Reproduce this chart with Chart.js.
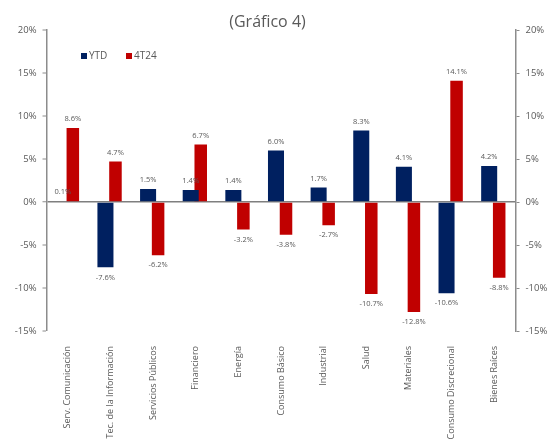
<!DOCTYPE html>
<html><head><meta charset="utf-8">
<script src="https://cdn.jsdelivr.net/npm/chart.js@4/dist/chart.umd.min.js"></script>
<style>html,body{margin:0;padding:0;background:#fff}</style>
</head><body>
<canvas id="c" width="560" height="443"></canvas>
<script>
const categories = ['Serv. Comunicación','Tec. de la Información','Servicios Públicos','Financiero','Energía','Consumo Básico','Industrial','Salud','Materiales','Consumo Discrecional','Bienes Raíces'];
const ytd = [0.1, -7.6, 1.5, 1.4, 1.4, 6.0, 1.7, 8.3, 4.1, -10.6, 4.2];
const q4 = [8.6, 4.7, -6.2, 6.7, -3.2, -3.8, -2.7, -10.7, -12.8, 14.1, -8.8];
const seriesNames = ['YTD', '4T24'];
const yMin = -15, yMax = 20, yStep = 5;
const titleText = '(Gráfico 4)';

const BLUE = '#002060', RED = '#C00000', TXT = '#595959', AX = '#8c8c8c';
const FONT = "'Open Sans', sans-serif";

const shiftPlugin = {
  id: 'shift',
  afterLayout(chart) {
    if (chart.titleBlock) { chart.titleBlock.left -= 12.5; chart.titleBlock.right -= 12.5; }
  }
};

const labelsPlugin = {
  id: 'valueLabels',
  afterDatasetsDraw(chart) {
    const ctx = chart.ctx;
    ctx.save();
    ctx.font = "7.5px " + FONT;
    ctx.fillStyle = TXT;
    ctx.textAlign = 'center';
    ctx.textBaseline = 'middle';
    chart.data.datasets.forEach((ds, i) => {
      const meta = chart.getDatasetMeta(i);
      meta.data.forEach((bar, j) => {
        const v = ds.data[j];
        const y = v >= 0 ? bar.y - 9 : bar.y + 10;
        ctx.fillText(v.toFixed(1) + '%', bar.x, y);
      });
    });
    ctx.restore();
  }
};

const legendPlugin = {
  id: 'customLegend',
  afterDraw(chart) {
    const ctx = chart.ctx;
    ctx.save();
    ctx.font = "10px " + FONT;
    ctx.textBaseline = 'middle';
    ctx.textAlign = 'left';
    const items = [{t: seriesNames[0], c: BLUE, x: 81}, {t: seriesNames[1], c: RED, x: 126}];
    items.forEach(it => {
      ctx.fillStyle = it.c;
      ctx.fillRect(it.x, 53, 6, 6);
      ctx.fillStyle = TXT;
      ctx.fillText(it.t, it.x + 8, 56);
    });
    ctx.restore();
  }
};

new Chart(document.getElementById('c'), {
  type: 'bar',
  data: {
    labels: categories,
    datasets: [
      { label: seriesNames[0], data: ytd, backgroundColor: BLUE, barPercentage: 1.6, categoryPercentage: 0.47, yAxisID: 'y' },
      { label: seriesNames[1], data: q4, backgroundColor: RED, barPercentage: 1.25, categoryPercentage: 0.47, yAxisID: 'y' }
    ]
  },
  options: {
    responsive: false,
    animation: false,
    devicePixelRatio: 1,
    layout: { padding: { left: 0, right: 0, top: 0, bottom: 0 } },
    plugins: {
      legend: { display: false },
      tooltip: { enabled: false },
      title: {
        display: true, text: titleText, color: TXT,
        font: { family: FONT, size: 16, weight: 'normal', lineHeight: 1 },
        padding: { top: 14, bottom: 0 }
      }
    },
    scales: {
      x: {
        grid: { display: false },
        border: { display: false },
        ticks: { color: TXT, font: { family: FONT, size: 9 }, minRotation: 90, maxRotation: 90, autoSkip: false, padding: 7 },
        afterFit(s) { s.height = 112; }
      },
      y: {
        position: 'left', min: yMin, max: yMax,
        ticks: { stepSize: yStep, color: TXT, font: { family: FONT, size: 9.5 }, padding: 6, callback: v => v + '%' },
        grid: {
          drawOnChartArea: true, tickLength: 4, tickColor: AX, tickWidth: 1,
          color: c => c.tick && c.tick.value === 0 ? '#7f7f7f' : 'transparent',
          lineWidth: c => c.tick && c.tick.value === 0 ? 1.5 : 0
        },
        border: { display: true, color: AX, width: 1.5 },
        afterFit(s) { s.width = 46.5; }
      },
      y2: {
        position: 'right', min: yMin, max: yMax,
        ticks: { stepSize: yStep, color: TXT, font: { family: FONT, size: 9.5 }, padding: 6, callback: v => v + '%' },
        grid: { drawOnChartArea: false, tickLength: 4, color: AX, tickWidth: 1 },
        border: { display: true, color: AX, width: 1.5 },
        afterFit(s) { s.width = 44.5; }
      }
    }
  },
  plugins: [shiftPlugin, labelsPlugin, legendPlugin]
});
</script>
</body></html>
